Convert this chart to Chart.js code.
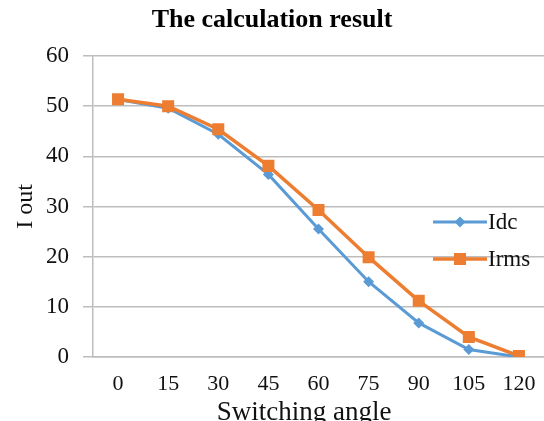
<!DOCTYPE html>
<html>
<head>
<meta charset="utf-8">
<script src="https://cdn.jsdelivr.net/npm/chart.js@4.4.1/dist/chart.umd.min.js"></script>
<style>
  html, body { margin: 0; padding: 0; background: #fff; }
  #wrap { width: 544px; height: 421px; }
</style>
</head>
<body>
<div id="wrap"><canvas id="resultChart" width="544" height="421"></canvas></div>
<script>
// switching angles (deg) and computed output currents
const angles = ['0', '15', '30', '45', '60', '75', '90', '105', '120'];
const idc = [51.3, 49.6, 44.4, 36.4, 25.5, 15.0, 6.8, 1.5, 0];
const irms = [51.4, 50.0, 45.4, 38.1, 29.3, 19.9, 11.2, 4.0, 0.2];
const yTicks = [0, 10, 20, 30, 40, 50, 60];

const serif = "'Liberation Serif', 'Times New Roman', serif";
const gridGray = '#BDBDBD';
const xTitle = 'Switching angle';

// legend drawn inside the plot on the right, over the grid,
// plus the x axis caption placed a little left of centre
const insideLegend = {
    id: 'insideLegend',
    afterDraw(chart) {
        const ctx = chart.ctx;
        const rows = [222, 259];
        ctx.save();
        chart.data.datasets.slice().sort((a, b) => a.legendRow - b.legendRow).forEach((ds, i) => {
            const y = rows[i];
            ctx.strokeStyle = ds.borderColor;
            ctx.lineWidth = ds.borderWidth;
            ctx.beginPath();
            ctx.moveTo(433, y);
            ctx.lineTo(487, y);
            ctx.stroke();
            ctx.fillStyle = ds.backgroundColor;
            Chart.helpers.drawPoint(ctx, {
                pointStyle: ds.pointStyle,
                radius: ds.pointRadius,
                borderWidth: 0,
                rotation: 0
            }, 460, y);
            ctx.fillStyle = '#111';
            ctx.font = '23px ' + serif;
            ctx.textAlign = 'left';
            ctx.textBaseline = 'middle';
            ctx.fillText(ds.label, 488, y + 1);
        });

        ctx.fillStyle = '#111';
        ctx.font = '27px ' + serif;
        ctx.textAlign = 'center';
        ctx.textBaseline = 'alphabetic';
        ctx.fillText(xTitle, 304, 420);
        ctx.restore();
    }
};

document.addEventListener('DOMContentLoaded', function() {
    const ctx = document.getElementById('resultChart').getContext('2d');

    new Chart(ctx, {
        type: 'line',
        data: {
            labels: angles,
            datasets: [{
                label: 'Idc',
                data: idc,
                borderColor: '#5B9BD5',
                backgroundColor: '#5B9BD5',
                borderWidth: 3,
                pointStyle: 'rectRot',
                pointRadius: 5.5,
                pointBorderWidth: 0,
                tension: 0,
                order: 1,
                legendRow: 0
            },
            {
                label: 'Irms',
                data: irms,
                borderColor: '#ED7D31',
                backgroundColor: '#ED7D31',
                borderWidth: 3.5,
                pointStyle: 'rect',
                pointRadius: 8.5,
                pointBorderWidth: 0,
                tension: 0,
                order: 0,
                legendRow: 1
            }]
        },
        options: {
            responsive: false,
            animation: false,
            // plot runs right to the canvas edge, markers may overhang
            layout: { padding: 0, autoPadding: false },
            plugins: {
                legend: { display: false },
                tooltip: { enabled: false },
                title: {
                    display: true,
                    text: 'The calculation result',
                    color: '#000',
                    font: { family: serif, size: 26, weight: 'bold', lineHeight: 1.2 },
                    padding: { top: 5, bottom: 19.8 }
                }
            },
            scales: {
                x: {
                    offset: true,
                    // no visible tick marks, the length only spaces the labels
                    grid: { display: false, drawTicks: true, tickLength: 14 },
                    border: { display: true, color: gridGray, width: 1.5 },
                    ticks: {
                        color: '#111',
                        padding: 0,
                        maxRotation: 0,
                        autoSkip: false,
                        font: { family: serif, size: 22 }
                    },
                    afterFit(scale) { scale.height = 64; }
                },
                y: {
                    min: 0,
                    max: 60,
                    afterBuildTicks(scale) {
                        scale.ticks = yTicks.map(v => ({ value: v }));
                    },
                    grid: {
                        color: gridGray,
                        lineWidth: 1.5,
                        tickLength: 10,
                        tickColor: gridGray
                    },
                    border: { display: true, color: gridGray, width: 1.5 },
                    ticks: {
                        color: '#111',
                        padding: 14,
                        font: { family: serif, size: 23 }
                    },
                    title: {
                        display: true,
                        text: 'I out',
                        color: '#111',
                        font: { family: serif, size: 24, lineHeight: 1.2 },
                        padding: { top: 11, bottom: 0 }
                    },
                    afterFit(scale) { scale.width = 93; }
                }
            }
        },
        plugins: [insideLegend]
    });
});
</script>
</body>
</html>
